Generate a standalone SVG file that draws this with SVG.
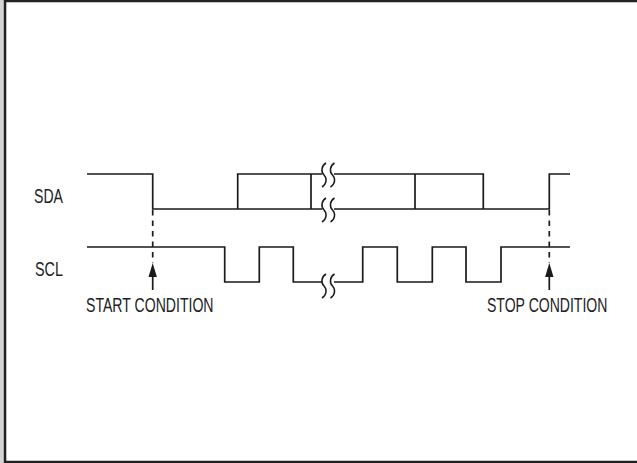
<svg xmlns="http://www.w3.org/2000/svg" width="637" height="463" viewBox="0 0 637 463">
<defs>
<style>
.w{fill:none;stroke:#1a1a1a;stroke-width:1.7;stroke-linejoin:miter;stroke-linecap:butt}
.sq{fill:none;stroke:#1a1a1a;stroke-width:1.5}
.d{fill:none;stroke:#1a1a1a;stroke-width:1.7;stroke-dasharray:5.5 5}
.h{fill:#1a1a1a;stroke:none}
.t{font-family:"Liberation Sans",Arial,sans-serif;font-size:20px;fill:#222}
</style>
<path id="sqg" class="sq" d="M2,-12 C-3,-9 -3,-3 0,0 C3,3 3,9 -2,12"/>
</defs>
<rect x="0" y="0" width="637" height="463" fill="#ffffff"/>
<rect x="0" y="0" width="3.5" height="463" fill="#d4d4d4"/>
<path id="frame" d="M637,1 H5 V462 H637" fill="none" stroke="#222" stroke-width="2.6"/>
<g id="labels">
<g id="sda-label"><text class="t" transform="translate(34,203) scale(0.705,1)">SDA</text></g>
<g id="scl-label"><text class="t" transform="translate(35,276) scale(0.72,1)">SCL</text></g>
<g id="start-label"><text class="t" transform="translate(86,311.5) scale(0.704,1)">START CONDITION</text></g>
<g id="stop-label"><text class="t" transform="translate(487,311.5) scale(0.703,1)">STOP CONDITION</text></g>
</g>
<g id="connectors">
<g id="sda">
<path class="w" d="M87,174 H152.7 V209 H322"/>
<path class="w" d="M334,209 H549.3 V174 H570"/>
<path class="w" d="M237.7,209 V174 H322"/>
<path class="w" d="M334,174 H483.3 V209"/>
<path class="w" d="M311,174 V209"/>
<path class="w" d="M415,174 V209"/>
</g>
<g id="scl">
<path class="w" d="M87,247 H224.7 V282 H259.3 V247 H293.3 V282 H322"/>
<path class="w" d="M334,282 H362.7 V247 H397.3 V282 H432.3 V247 H466 V282 H501 V247 H570"/>
</g>
<g id="breaks">
<use href="#sqg" x="324" y="175"/><use href="#sqg" x="332.5" y="175"/>
<use href="#sqg" x="324" y="210"/><use href="#sqg" x="332.5" y="210"/>
<use href="#sqg" x="324" y="286"/><use href="#sqg" x="332.5" y="286"/>
</g>
<g id="start-marker">
<path class="d" d="M152.7,210 V263"/>
<path class="w" d="M152.7,290 V275"/>
<polygon class="h" points="152.7,263 156.9,277 148.5,277"/>
</g>
<g id="stop-marker">
<path class="d" d="M549.3,210 V263"/>
<path class="w" d="M549.3,290 V275"/>
<polygon class="h" points="549.3,263 553.5,277 545.1,277"/>
</g>
</g>
</svg>
